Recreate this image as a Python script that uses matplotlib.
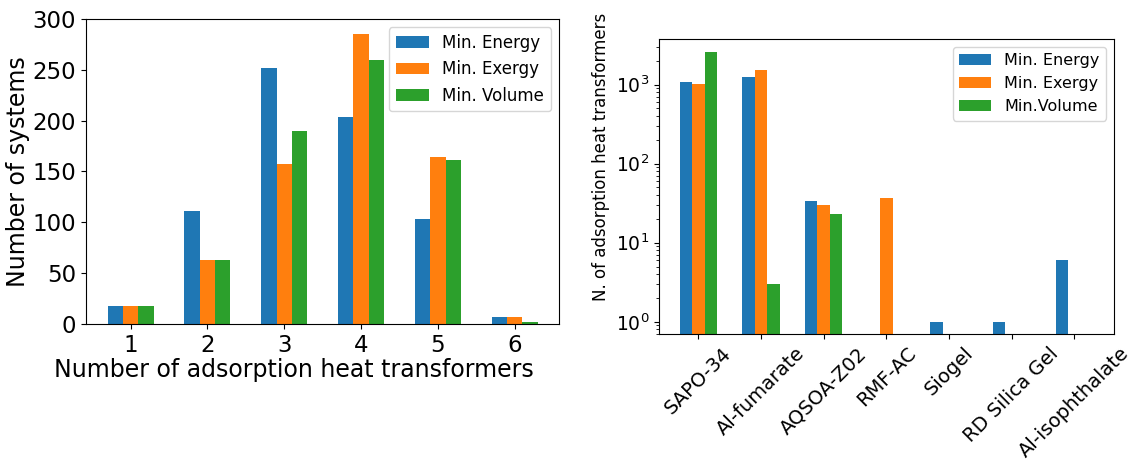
import matplotlib
matplotlib.use("Agg")
import matplotlib.pyplot as plt
import numpy as np

# left panel: number of systems vs number of heat transformers
n_aht = [1, 2, 3, 4, 5, 6]
sys_energy = [18, 111, 252, 204, 103, 7]
sys_exergy = [18, 63, 157, 285, 164, 7]
sys_volume = [18, 63, 190, 260, 161, 2]

# right panel: heat transformers per material (log scale)
materials = ["SAPO-34", "Al-fumarate", "AQSOA-Z02", "RMF-AC", "Siogel",
             "RD Silica Gel", "Al-isophthalate"]
mat_energy = [1080, 1260, 34, 0, 1, 1, 6]
mat_exergy = [1030, 1550, 30, 37, 0, 0, 0]
mat_volume = [2600, 3, 23, 0, 0, 0, 0]

w = 0.2
fig = plt.figure(figsize=(11.32, 4.62), dpi=100)

ax1 = fig.add_axes([0.076, 0.299, 0.418, 0.66])
x = np.array(n_aht)
ax1.bar(x - w, sys_energy, w, label="Min. Energy")
ax1.bar(x, sys_exergy, w, label="Min. Exergy")
ax1.bar(x + w, sys_volume, w, label="Min. Volume")
ax1.set_xticks(x)
ax1.set_ylim(0, 300)
ax1.tick_params(labelsize=16.5)
ax1.set_xlabel("Number of adsorption heat transformers", fontsize=17, labelpad=1)
ax1.xaxis.label.set_x(0.44)   # label sits a bit left of centre in the original
ax1.set_ylabel("Number of systems", fontsize=17, labelpad=2)
ax1.legend(fontsize=12)

ax2 = fig.add_axes([0.582, 0.277, 0.402, 0.639])
xm = np.arange(len(materials))
ax2.bar(xm - w, mat_energy, w, label="Min. Energy")
ax2.bar(xm, mat_exergy, w, label="Min. Exergy")
ax2.bar(xm + w, mat_volume, w, label="Min.Volume")
ax2.set_yscale("log")
ax2.set_ylim(0.7, 3800)
ax2.set_xlim(-0.63, 6.63)
ax2.set_xticks(xm)
ax2.set_xticklabels(materials, rotation=45)
ax2.tick_params(axis="x", labelsize=14)
ax2.tick_params(axis="y", labelsize=13.5)
ax2.set_ylabel("N. of adsorption heat transformers", fontsize=12)
ax2.yaxis.label.set_y(0.6)
ax2.legend(fontsize=11.5)

fig.savefig("out.png", dpi=100)
